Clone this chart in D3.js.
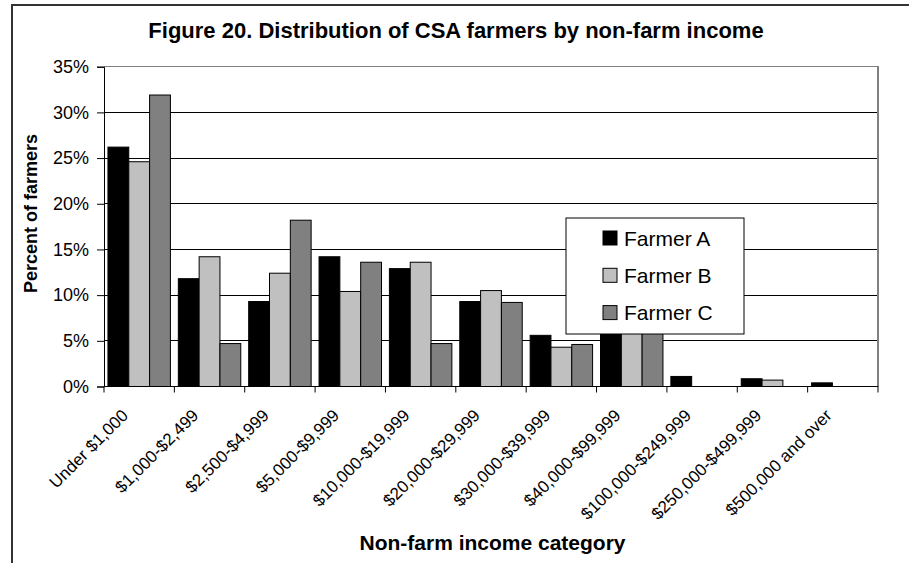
<!DOCTYPE html>
<html>
<head>
<meta charset="utf-8">
<script src="https://cdn.jsdelivr.net/npm/d3@7"></script>
<style>
  html, body { margin: 0; padding: 0; background: #fff; }
  svg { display: block; font-family: Arial, "Liberation Sans", sans-serif; }
</style>
</head>
<body>
<svg id="chart" width="909" height="563"></svg>
<script>
// Income categories (x axis)
const categories = [
  "Under $1,000", "$1,000-$2,499", "$2,500-$4,999", "$5,000-$9,999",
  "$10,000-$19,999", "$20,000-$29,999", "$30,000-$39,999", "$40,000-$99,999",
  "$100,000-$249,999", "$250,000-$499,999", "$500,000 and over"
];
// Share of farmers (%) in each category
const seriesNames = ["Farmer A", "Farmer B", "Farmer C"];
const farmerA = [26.2, 11.8, 9.3, 14.2, 12.9, 9.3, 5.6, 8.8, 1.1, 0.85, 0.4];
const farmerB = [24.6, 14.2, 12.4, 10.4, 13.6, 10.5, 4.3, 9.5, 0, 0.7, 0];
const farmerC = [31.9, 4.7, 18.2, 13.6, 4.7, 9.2, 4.6, 13.2, 0, 0, 0];
const yTicks = [0, 5, 10, 15, 20, 25, 30, 35];
const colors = ["#000000", "#c0c0c0", "#808080"];

const series = [farmerA, farmerB, farmerC];

const svg = d3.select("#chart");
const plot = { left: 104, right: 878, top: 66.7, bottom: 386.5 };

// outer frame
svg.append("rect")
  .attr("x", 12).attr("y", 5).attr("width", 920).attr("height", 580)
  .attr("fill", "none").attr("stroke", "#333").attr("stroke-width", 2);

const x = d3.scaleBand().domain(categories).range([plot.left, plot.right]).paddingInner(0).paddingOuter(0);
const inner = d3.scaleBand().domain(seriesNames).range([0, x.bandwidth()]).paddingOuter(0.19).paddingInner(0);
const y = d3.scaleLinear().domain([0, 35]).range([plot.bottom, plot.top]);

// gridlines
svg.append("g").selectAll("line").data(yTicks.filter(t => t > 0 && t < 35)).join("line")
  .attr("x1", plot.left).attr("x2", plot.right)
  .attr("y1", d => y(d)).attr("y2", d => y(d))
  .attr("stroke", "#000").attr("stroke-width", 1).attr("shape-rendering", "crispEdges");

// plot area border (top and right)
svg.append("path")
  .attr("d", `M${plot.left},${y(35)}H${plot.right}V${plot.bottom}`)
  .attr("fill", "none").attr("stroke", "#808080").attr("stroke-width", 1.5)
  .attr("shape-rendering", "crispEdges");

// bars
const groups = svg.append("g").selectAll("g").data(categories).join("g")
  .attr("transform", d => `translate(${x(d)},0)`);
groups.selectAll("rect")
  .data((c, i) => series.map((s, k) => ({ name: seriesNames[k], value: s[i], k })))
  .join("rect")
  .filter(d => d.value > 0)
  .attr("x", d => inner(d.name))
  .attr("width", inner.bandwidth())
  .attr("y", d => y(d.value))
  .attr("height", d => y(0) - y(d.value))
  .attr("fill", d => colors[d.k])
  .attr("stroke", "#000").attr("stroke-width", 1);

// y axis
const yAxis = svg.append("g").attr("transform", `translate(${plot.left},0)`)
  .call(d3.axisLeft(y).tickValues(yTicks).tickFormat(d => d + "%").tickSize(7).tickPadding(8));
yAxis.select(".domain").attr("stroke", "#000");
yAxis.selectAll(".tick line").attr("stroke", "#000");
yAxis.selectAll("text").attr("font-size", 18).attr("fill", "#000")
  .attr("font-family", "Arial, 'Liberation Sans', sans-serif");

// x axis (ticks on category boundaries)
const xAxisG = svg.append("g").attr("transform", `translate(0,${plot.bottom})`);
xAxisG.append("line").attr("x1", plot.left).attr("x2", plot.right)
  .attr("stroke", "#000").attr("stroke-width", 1.2);
const bounds = categories.map(c => x(c)).concat([plot.right]);
xAxisG.selectAll("line.tick").data(bounds).join("line").attr("class", "tick")
  .attr("x1", d => d).attr("x2", d => d).attr("y1", 0).attr("y2", 6)
  .attr("stroke", "#000");
xAxisG.selectAll("text").data(categories).join("text")
  .attr("transform", d => `translate(${x(d) + x.bandwidth() / 2 - 10},${30}) rotate(-45)`)
  .attr("text-anchor", "end")
  .attr("font-size", 17).attr("fill", "#000")
  .text(d => d);

// titles
svg.append("text").attr("x", 456).attr("y", 38).attr("text-anchor", "middle")
  .attr("font-size", 22).attr("font-weight", "bold").text("Figure 20. Distribution of CSA farmers by non-farm income");
svg.append("text").attr("transform", "translate(37,213.5) rotate(-90)").attr("text-anchor", "middle")
  .attr("font-size", 18).attr("font-weight", "bold").text("Percent of farmers");
svg.append("text").attr("x", 492.5).attr("y", 550).attr("text-anchor", "middle")
  .attr("font-size", 21).attr("font-weight", "bold").text("Non-farm income category");

// legend
const legend = svg.append("g").attr("transform", "translate(566,218)");
legend.append("rect").attr("width", 178).attr("height", 116)
  .attr("fill", "#fff").attr("stroke", "#000").attr("stroke-width", 1);
const items = legend.selectAll("g").data(seriesNames).join("g")
  .attr("transform", (d, i) => `translate(37,${20 + i * 37.3})`);
items.append("rect").attr("x", 0).attr("y", -7).attr("width", 14).attr("height", 14)
  .attr("fill", (d, i) => colors[i]).attr("stroke", "#000");
items.append("text").attr("x", 21).attr("y", 7.5).attr("font-size", 21).attr("fill", "#000").text(d => d);
</script>
</body>
</html>
